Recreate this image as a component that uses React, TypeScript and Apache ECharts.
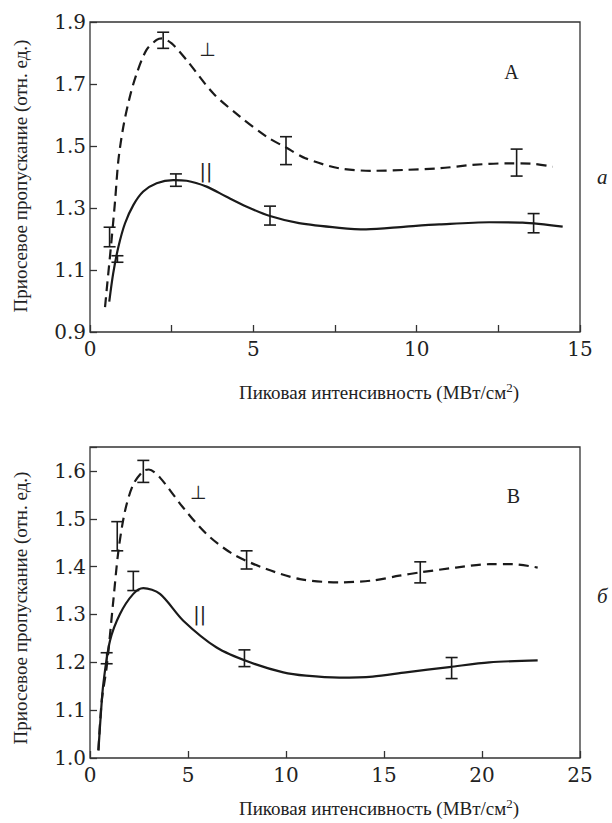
import React, { useEffect, useRef } from "react";
import * as echarts from "echarts";

// ---- Panel A (top) ----
const xAPerp = [0.46, 0.51, 0.66, 0.77, 0.87, 1.02, 1.22, 1.43, 1.73, 2.04, 2.2, 2.5, 2.96, 3.77, 4.59, 5.41, 6.0, 6.61, 7.63, 8.65, 9.67, 10.69, 11.71, 12.73, 13.5, 14.16];
const yAPerp = [0.98, 1.035, 1.197, 1.326, 1.455, 1.562, 1.659, 1.734, 1.81, 1.842, 1.847, 1.831, 1.777, 1.67, 1.595, 1.53, 1.495, 1.46, 1.428, 1.42, 1.423, 1.428, 1.439, 1.444, 1.443, 1.433];
const xAPar = [0.59, 0.71, 0.87, 1.07, 1.33, 1.63, 2.04, 2.55, 2.96, 3.57, 4.18, 4.8, 5.51, 6.4, 7.63, 8.45, 9.67, 10.69, 12.22, 13.24, 14.47];
const yAPar = [0.998, 1.089, 1.175, 1.25, 1.31, 1.353, 1.38, 1.39, 1.388, 1.369, 1.336, 1.304, 1.274, 1.251, 1.236, 1.231, 1.24, 1.247, 1.254, 1.253, 1.24];
// error bars: [x, low, high]
const errAPerp = [[0.6, 1.175, 1.238], [2.24, 1.815, 1.867], [6.0, 1.44, 1.53], [13.06, 1.403, 1.49]];
const errAPar = [[0.84, 1.125, 1.146], [2.63, 1.37, 1.41], [5.51, 1.245, 1.306], [13.58, 1.22, 1.282]];

// ---- Panel B (bottom) ----
const xBPerp = [0.43, 0.6, 0.85, 1.19, 1.45, 1.79, 2.21, 2.72, 3.0, 3.57, 4.76, 5.95, 7.3, 9.0, 10.71, 12.72, 14.42, 15.78, 16.85, 18.67, 20.37, 21.56, 22.84];
const yBPerp = [1.016, 1.12, 1.19, 1.329, 1.433, 1.517, 1.572, 1.6, 1.603, 1.586, 1.523, 1.468, 1.426, 1.395, 1.374, 1.367, 1.371, 1.381, 1.388, 1.398, 1.405, 1.405, 1.398];
const xBPar = [0.43, 0.55, 0.68, 1.02, 1.53, 2.21, 2.72, 3.57, 4.76, 6.46, 8.16, 9.86, 11.02, 12.72, 14.42, 16.12, 18.33, 20.37, 22.84];
const yBPar = [1.016, 1.09, 1.155, 1.245, 1.301, 1.343, 1.355, 1.343, 1.287, 1.231, 1.2, 1.179, 1.172, 1.168, 1.17, 1.179, 1.19, 1.2, 1.204];
const errBPerp = [[1.39, 1.433, 1.494], [2.72, 1.576, 1.622], [7.99, 1.395, 1.433], [16.85, 1.366, 1.41]];
const errBPar = [[0.85, 1.197, 1.22], [2.21, 1.35, 1.39], [7.88, 1.191, 1.226], [18.45, 1.166, 1.21]];

// tick labels
const xTicksA = [0, 5, 10, 15];
const yTicksA = [0.9, 1.1, 1.3, 1.5, 1.7, 1.9];
const xTicksB = [0, 5, 10, 15, 20, 25];
const yTicksB = [1.0, 1.1, 1.2, 1.3, 1.4, 1.5, 1.6];

// annotations [x, y, text]
const annotA = [[3.6, 1.813, "⊥"], [3.55, 1.419, "||"], [12.9, 1.74, "А"]];
const annotB = [[5.53, 1.555, "⊥"], [5.6, 1.3, "||"], [21.6, 1.548, "В"]];

const yTitle = "Приосевое пропускание (отн. ед.)";
const xTitleMain = "Пиковая интенсивность (МВт/см";

const zip = (xs: number[], ys: number[]) => xs.map((x, i) => [x, ys[i]]);

const INK = "#1a1a1a";
const AX = "#333";
const F_TITLE = "19px 'Liberation Serif'";
const F_TICK = "20px 'DejaVu Serif'";

export default function App() {
  const ref = useRef<HTMLDivElement>(null);
  useEffect(() => {
    const chart = echarts.init(ref.current!, undefined, { renderer: "svg" });

    const errRender = (params: any, api: any) => {
      const x = api.value(0);
      const lo = api.value(1);
      const hi = api.value(2);
      const t = api.coord([x, hi]);
      const b = api.coord([x, lo]);
      const hw = 6;
      const st = { stroke: INK, lineWidth: 1.6 };
      return {
        type: "group",
        children: [
          { type: "line", shape: { x1: t[0], y1: t[1], x2: b[0], y2: b[1] }, style: st },
          { type: "line", shape: { x1: t[0] - hw, y1: t[1], x2: t[0] + hw, y2: t[1] }, style: st },
          { type: "line", shape: { x1: b[0] - hw, y1: b[1], x2: b[0] + hw, y2: b[1] }, style: st },
        ],
      };
    };

    const annotTexts: Record<number, string[]> = {
      4: annotA.map((a) => a[2] as string),
      9: annotB.map((a) => a[2] as string),
    };
    const annotRender = (params: any, api: any) => {
      const p = api.coord([api.value(0), api.value(1)]);
      const txt = annotTexts[params.seriesIndex][params.dataIndex];
      const sym = txt === "⊥" || txt === "||";
      return {
        type: "text",
        x: p[0],
        y: p[1],
        style: {
          text: txt,
          fill: "#222",
          align: "center",
          verticalAlign: "middle",
          font: sym ? "19px 'DejaVu Sans'" : "20px 'Liberation Serif'",
        },
      };
    };

    // tick labels drawn as custom text at the axes' own positions
    const tickRender = (axis: "x" | "y", fmt: (v: number) => string) => (params: any, api: any) => {
      const v = api.value(0);
      const s = fmt(v);
      if (!s) return null;
      const cs = params.coordSys;
      const p = axis === "x" ? api.coord([v, 0]) : api.coord([0, v]);
      const x = axis === "x" ? p[0] : cs.x - 4;
      const y = axis === "x" ? cs.y + cs.height + 7 : p[1];
      return {
        type: "text",
        x,
        y,
        style: {
          text: s,
          fill: "#222",
          font: F_TICK,
          align: axis === "x" ? "center" : "right",
          verticalAlign: axis === "x" ? "top" : "middle",
        },
      };
    };

    const axisCommon = {
      axisLine: { show: false },
      axisTick: { show: true, inside: true, length: 7, lineStyle: { color: AX, width: 1.3 } },
      axisLabel: { show: false },
      splitLine: { show: false },
    };

    const lineSeries = (data: number[][], idx: number, dashed: boolean) => ({
      type: "line",
      xAxisIndex: idx,
      yAxisIndex: idx,
      data,
      showSymbol: false,
      smooth: 0.3,
      lineStyle: { color: INK, width: 2.2, type: dashed ? [10, 6] : "solid" },
      z: 3,
    });
    const errSeries = (data: number[][], idx: number) => ({
      type: "custom",
      xAxisIndex: idx,
      yAxisIndex: idx,
      data,
      encode: { x: 0, y: [1, 2] },
      renderItem: errRender,
      z: 4,
    });
    const annotSeries = (items: any[], idx: number) => ({
      type: "custom",
      xAxisIndex: idx,
      yAxisIndex: idx,
      data: items.map((a) => [a[0], a[1]]),
      encode: { x: 0, y: 1 },
      renderItem: annotRender,
      z: 5,
    });
    const tickSeries = (vals: number[], idx: number, axis: "x" | "y", fmt: (v: number) => string) => ({
      type: "custom",
      xAxisIndex: idx,
      yAxisIndex: idx,
      data: vals.map((v) => [v]),
      encode: axis === "x" ? { x: 0 } : { y: 0 },
      renderItem: tickRender(axis, fmt),
      clip: false,
      silent: true,
      z: 6,
    });

    const fmtInt = (v: number) => String(Math.round(v));
    const fmt1 = (v: number) => v.toFixed(1);

    const titleGraphic = (cx: number, cy: number) => ({
      type: "text",
      x: cx,
      y: cy,
      style: {
        text: "{n|" + xTitleMain + "}{s|2}{n|)}",
        fill: "#222",
        align: "center",
        verticalAlign: "middle",
        font: F_TITLE,
        rich: {
          n: { font: F_TITLE, fill: "#222" },
          s: { font: "13px 'Liberation Serif'", fill: "#222", padding: [0, 0, 10, 0] },
        },
      },
    });
    const yTitleGraphic = (cx: number, cy: number) => ({
      type: "text",
      x: cx,
      y: cy,
      rotation: Math.PI / 2,
      style: { text: yTitle, fill: "#222", align: "center", verticalAlign: "middle", font: F_TITLE },
    });

    chart.setOption({
      animation: false,
      backgroundColor: "#fff",
      grid: [
        { left: 90, top: 22, width: 490, height: 310, show: true, borderColor: AX, borderWidth: 1.3, backgroundColor: "transparent" },
        { left: 90, top: 447, width: 490, height: 311, show: true, borderColor: AX, borderWidth: 1.3, backgroundColor: "transparent" },
      ],
      xAxis: [
        { type: "value", gridIndex: 0, min: 0, max: 15, interval: 2.5, ...axisCommon },
        { type: "value", gridIndex: 1, min: 0, max: 25, interval: 5, ...axisCommon },
      ],
      yAxis: [
        { type: "value", gridIndex: 0, min: 0.9, max: 1.9, interval: 0.2, ...axisCommon },
        { type: "value", gridIndex: 1, min: 1.0, max: 1.65, interval: 0.1, ...axisCommon },
      ],
      graphic: [
        { type: "text", left: 597, top: 166, style: { text: "a", font: "italic 21px 'Liberation Serif'", fill: "#222" } },
        { type: "text", left: 597, top: 585, style: { text: "б", font: "italic 21px 'Liberation Serif'", fill: "#222" } },
        titleGraphic(379, 392),
        titleGraphic(379, 808),
        yTitleGraphic(20, 176),
        yTitleGraphic(20, 608),
      ],
      series: [
        lineSeries(zip(xAPerp, yAPerp), 0, true),
        lineSeries(zip(xAPar, yAPar), 0, false),
        errSeries(errAPerp, 0),
        errSeries(errAPar, 0),
        annotSeries(annotA, 0),
        lineSeries(zip(xBPerp, yBPerp), 1, true),
        lineSeries(zip(xBPar, yBPar), 1, false),
        errSeries(errBPerp, 1),
        errSeries(errBPar, 1),
        annotSeries(annotB, 1),
        tickSeries(xTicksA, 0, "x", fmtInt),
        tickSeries(yTicksA, 0, "y", fmt1),
        tickSeries(xTicksB, 1, "x", fmtInt),
        tickSeries(yTicksB, 1, "y", fmt1),
      ],
    });
    return () => chart.dispose();
  }, []);
  return <div ref={ref} style={{ position: "absolute", left: 0, top: 0, width: 612, height: 823 }} />;
}
